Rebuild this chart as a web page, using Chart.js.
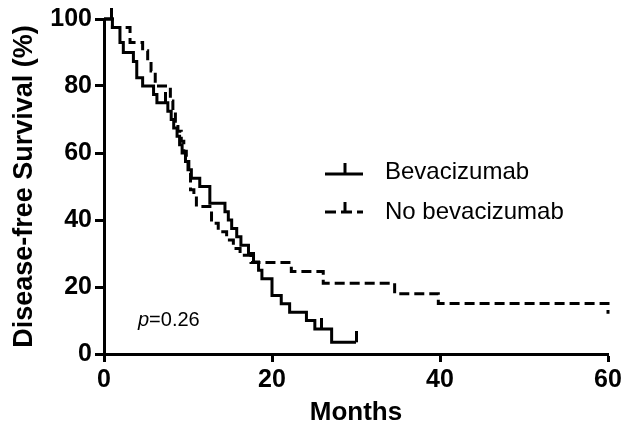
<!DOCTYPE html>
<html><head><meta charset="utf-8">
<script src="https://cdn.jsdelivr.net/npm/chart.js@4"></script>
<style>html,body{margin:0;padding:0;background:#fff}</style>
</head><body>
<canvas id="c" width="633" height="431"></canvas>
<script>
// ---- data ----
const seriesLabels = ['Bevacizumab', 'No bevacizumab'];
const bevMonths   = [0, 1.0, 1.9, 2.3, 3.5, 3.9, 4.6, 5.9, 6.3, 7.6, 8.0, 8.3, 8.7, 9.0, 9.3, 9.7, 10.0, 10.4, 11.4, 12.6, 14.4, 14.8, 15.2, 15.8, 16.3, 17.2, 17.8, 18.4, 18.8, 20.0, 21.1, 22.1, 24.1, 25.1, 27.1, 30.0];
const bevSurvival = [100, 97.5, 93, 90, 87.3, 82.5, 80, 77.5, 75, 72.5, 70, 67.5, 65, 62.5, 60, 57.5, 55, 52.5, 50, 45, 42.5, 40, 37.5, 35, 32.5, 30, 27.5, 25, 22.5, 17.5, 15, 12.5, 10, 7.5, 3.5, 3.5];
const bevCensorMonths   = [0.9, 7.3, 25.9, 30.0];
const bevCensorSurvival = [100, 75, 7.5, 3.5];
const noBevMonths   = [0, 1.0, 3.1, 4.6, 5.2, 5.6, 6.1, 7.9, 8.2, 8.5, 8.8, 9.2, 9.5, 9.8, 10.1, 10.3, 10.7, 11.0, 12.8, 13.6, 14.6, 15.4, 16.2, 17.5, 22.3, 26.1, 34.6, 39.8, 60.0];
const noBevSurvival = [100, 97.5, 93, 90.5, 87.5, 84.5, 80, 75.5, 72.5, 69.5, 66.5, 63.5, 60.5, 57.5, 54, 49, 47, 44, 39, 36.5, 34, 31.5, 29.5, 27.3, 24.6, 21.1, 18, 15.1, 12];
const xTickValues = [0, 20, 40, 60];
const yTickValues = [0, 20, 40, 60, 80, 100];
const pValueText = '=0.26';

const FONT = '"Liberation Sans", Arial, Helvetica, sans-serif';

function pts(xs, ys){ return xs.map((x,i)=>({x:x, y:ys[i]})); }

// upward censor tick as a point image
const tick = document.createElement('canvas');
tick.width = 3; tick.height = 22;
const tctx = tick.getContext('2d');
tctx.fillStyle = '#000'; tctx.fillRect(0, 0, 3, 11);

const annot = {
  id: 'annot',
  afterDraw(chart){
    const ctx = chart.ctx;
    ctx.save();
    ctx.strokeStyle = '#000'; ctx.fillStyle = '#000';
    ctx.lineWidth = 3;
    // legend entry 1
    ctx.beginPath(); ctx.moveTo(325, 174); ctx.lineTo(363, 174); ctx.stroke();
    ctx.beginPath(); ctx.moveTo(345, 163); ctx.lineTo(345, 174); ctx.stroke();
    // legend entry 2
    ctx.setLineDash([11, 5]);
    ctx.beginPath(); ctx.moveTo(325, 212); ctx.lineTo(363, 212); ctx.stroke();
    ctx.setLineDash([]);
    ctx.beginPath(); ctx.moveTo(345, 202); ctx.lineTo(345, 212); ctx.stroke();
    ctx.font = '24px ' + FONT;
    ctx.textBaseline = 'middle'; ctx.textAlign = 'left';
    ctx.fillText(seriesLabels[0], 385, 172);
    ctx.fillText(seriesLabels[1], 385, 212);
    // p value
    ctx.textBaseline = 'alphabetic';
    ctx.font = 'italic 20px ' + FONT;
    ctx.fillText('p', 138, 326);
    const w = ctx.measureText('p').width;
    ctx.font = '20px ' + FONT;
    ctx.fillText(pValueText, 138 + w, 326);
    ctx.restore();
  }
};

new Chart(document.getElementById('c'), {
  type: 'line',
  data: {
    datasets: [
      { label: seriesLabels[0], data: pts(bevMonths, bevSurvival), stepped: true,
        borderColor: '#000', borderWidth: 3, pointRadius: 0, fill: false, clip: false },
      { label: seriesLabels[1], data: pts(noBevMonths, noBevSurvival), stepped: true,
        borderColor: '#000', borderWidth: 3, borderDash: [10, 5], pointRadius: 0, fill: false, clip: false },
      { type: 'scatter', label: 'censored', data: pts(bevCensorMonths, bevCensorSurvival),
        pointStyle: tick, pointRadius: 6, showLine: false, clip: false }
    ]
  },
  options: {
    responsive: false, devicePixelRatio: 1, animation: false,
    layout: { padding: { top: 19, right: 25, left: 0, bottom: 0 } },
    plugins: { legend: { display: false }, tooltip: { enabled: false } },
    scales: {
      x: {
        type: 'linear', min: 0, max: 60,
        afterFit(s){ s.height = 77; },
        afterBuildTicks(s){ s.ticks = xTickValues.map(v=>({value:v})); },
        ticks: { color: '#000', font: { family: FONT, size: 25, weight: 'bold' }, padding: 3 },
        grid: { drawOnChartArea: false, drawTicks: true, tickLength: 8, tickWidth: 3, tickColor: '#000' },
        border: { color: '#000', width: 3 },
        title: { display: true, text: 'Months', color: '#000', font: { family: FONT, size: 26, weight: 'bold' }, padding: { top: 0, bottom: 3 } }
      },
      y: {
        type: 'linear', min: 0, max: 100,
        afterFit(s){ s.width = 104; },
        afterBuildTicks(s){ s.ticks = yTickValues.map(v=>({value:v})); },
        ticks: { color: '#000', font: { family: FONT, size: 25, weight: 'bold' }, padding: 3 },
        grid: { drawOnChartArea: false, drawTicks: true, tickLength: 9, tickWidth: 3, tickColor: '#000' },
        border: { color: '#000', width: 3 },
        title: { display: true, text: 'Disease-free Survival (%)', color: '#000', font: { family: FONT, size: 27, weight: 'bold' }, padding: { top: 8, bottom: 0 } }
      }
    }
  },
  plugins: [annot]
});
</script>
</body></html>
